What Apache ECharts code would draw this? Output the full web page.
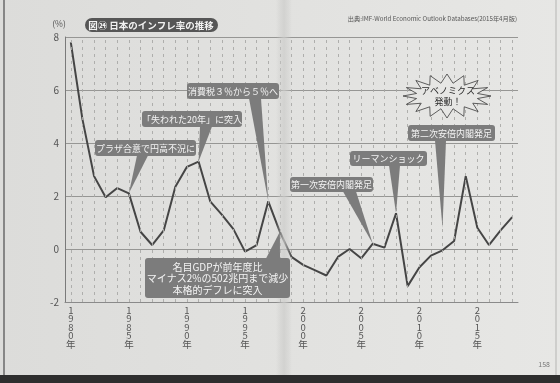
<!DOCTYPE html>
<html><head><meta charset="utf-8">
<script src="https://cdn.jsdelivr.net/npm/echarts@6/dist/echarts.min.js"></script>
<style>html,body{margin:0;padding:0;background:#e2e2e0}#c{width:560px;height:383px}</style>
</head><body><div id="c"></div><script>
// ---- data ----
const years = [1980,1981,1982,1983,1984,1985,1986,1987,1988,1989,
               1990,1991,1992,1993,1994,1995,1996,1997,1998,1999,
               2000,2001,2002,2003,2004,2005,2006,2007,2008,2009,
               2010,2011,2012,2013,2014,2015,2016,2017,2018];
const inflation = [7.8,4.9,2.75,1.95,2.3,2.1,0.65,0.15,0.7,2.35,
                   3.1,3.3,1.8,1.3,0.75,-0.1,0.15,1.8,0.65,-0.3,
                   -0.6,-0.8,-1.0,-0.3,0.0,-0.35,0.2,0.05,1.35,-1.4,
                   -0.7,-0.25,-0.05,0.3,2.75,0.8,0.15,0.7,1.2];
const labelYears = [1980,1985,1990,1995,2000,2005,2010,2015];
const yMin = -2, yMax = 8, yStep = 2;
const titleText = '図㉔ 日本のインフレ率の推移';
const sourceText = '出典:IMF-World Economic Outlook Databases(2015年4月版)';
const unitText = '(%)';
const noteTexts = ['プラザ合意で円高不況に','「失われた20年」に突入','消費税３％から５％へ',
                   '名目GDPが前年度比\nマイナス2%の502兆円まで減少\n本格的デフレに突入',
                   '第一次安倍内閣発足','リーマンショック','第二次安倍内閣発足'];
const noteYears = [1985,1991,1997,1998,2006,2008,2012];
const noteTipValues = [2.1,3.3,1.8,0.65,0.2,1.35,0.8];
const burstText = 'アベノミクス\n発動！';
const pageNumber = '158';

// ---- layout (pixels) ----
const noteBoxes = [
  {x:95,y:140,w:101,h:16,b1:137,b2:148,edge:'bottom',fs:9},
  {x:142,y:111,w:100,h:16,b1:200,b2:212,edge:'bottom',fs:9},
  {x:187,y:83,w:92,h:16,b1:249,b2:261,edge:'bottom',fs:9},
  {x:145,y:258,w:145,h:40,b1:266,b2:280,edge:'top',fs:10},
  {x:290,y:177,w:83,h:15,b1:343,b2:356,edge:'bottom',fs:9},
  {x:350,y:151,w:77,h:15,b1:389,b2:400,edge:'bottom',fs:9},
  {x:408,y:125,w:87,h:16,b1:435,b2:446,edge:'bottom',fs:9}
];
const FONT = '"Noto Sans CJK JP","Noto Sans",sans-serif';

const chart = echarts.init(document.getElementById('c'), null, {renderer:'canvas'});
chart.setOption({
  animation:false,
  backgroundColor:'#e2e2e0',
  textStyle:{fontFamily:FONT},
  grid:{left:65,right:42,top:37,bottom:81},
  xAxis:{type:'category',data:years.map(String),boundaryGap:true,
    axisLine:{onZero:false,lineStyle:{color:'#8a8a8a',width:1}},
    axisTick:{show:false},
    axisLabel:{interval:(i,v)=>labelYears.includes(+v),
      formatter:v=>v.split('').join('\n')+'\n年',
      fontSize:9.5,lineHeight:8.5,color:'#555',margin:4,fontFamily:FONT},
    splitLine:{show:false}},
  yAxis:{type:'value',min:yMin,max:yMax,interval:yStep,
    axisLine:{show:true,lineStyle:{color:'#7a7a7a'}},
    axisTick:{show:false},
    axisLabel:{fontSize:10,color:'#555',margin:6},
    splitLine:{lineStyle:{color:'#969694',width:1}}},
  series:[{type:'line',data:inflation,symbol:'none',z:3,
    lineStyle:{color:'#454545',width:2},itemStyle:{color:'#454545'},
    markLine:{silent:true,symbol:['none','none'],label:{show:false},
      lineStyle:{type:[3,4],color:'#a8a8a6',width:0.9},
      emphasis:{disabled:true},
      data:years.map(y=>({xAxis:String(y)}))}}]
});

const g = [];
// page decoration
g.push({type:'rect',silent:true,z:-1,shape:{x:0,y:0,width:560,height:383},
  style:{fill:new echarts.graphic.LinearGradient(0,0,1,0,[{offset:0,color:'#dcdcda'},{offset:1,color:'#e7e7e5'}])}});
g.push({type:'rect',silent:true,z:20,shape:{x:276,y:0,width:16,height:375},
  style:{fill:new echarts.graphic.LinearGradient(0,0,1,0,[{offset:0,color:'rgba(200,200,198,0)'},{offset:0.5,color:'rgba(205,205,203,0.75)'},{offset:1,color:'rgba(200,200,198,0)'}])}});
g.push({type:'rect',silent:true,z:21,shape:{x:0,y:375,width:560,height:8},style:{fill:'#2e2e2e'}});
g.push({type:'line',silent:true,z:21,shape:{x1:4,y1:0,x2:4,y2:375},style:{stroke:'#6a6a6a',lineWidth:1.5}});
g.push({type:'line',silent:true,z:21,shape:{x1:556,y1:0,x2:556,y2:375},style:{stroke:'#b5b5b3',lineWidth:1}});
g.push({type:'text',silent:true,z:21,style:{x:550,y:364,text:pageNumber,fontSize:7,fill:'#777',align:'right',verticalAlign:'middle',fontFamily:FONT}});

// title pill
g.push({type:'rect',z:30,shape:{x:85,y:18,width:133,height:14,r:7},style:{fill:'#565656'}});
g.push({type:'text',z:31,style:{x:151,y:25.5,text:titleText,fontSize:9.5,fontWeight:'bold',fill:'#f2f2f2',align:'center',verticalAlign:'middle',fontFamily:FONT}});
g.push({type:'text',z:31,style:{x:59,y:24,text:unitText,fontSize:8.5,fill:'#555',align:'center',verticalAlign:'middle',fontFamily:FONT}});
g.push({type:'text',z:31,style:{x:517,y:19,text:sourceText,fontSize:6.2,fill:'#555',align:'right',verticalAlign:'middle',fontFamily:FONT}});

// annotation boxes with pointers
noteTexts.forEach((t,i)=>{
  const b = noteBoxes[i];
  const tip = chart.convertToPixel({gridIndex:0},[years.indexOf(noteYears[i]),noteTipValues[i]]);
  const by = b.edge==='bottom' ? b.y+b.h-0.5 : b.y+0.5;
  g.push({type:'polygon',z:30,shape:{points:[[b.b1,by],[b.b2,by],tip]},style:{fill:'#7c7c7c'}});
  g.push({type:'rect',z:30,shape:{x:b.x,y:b.y,width:b.w,height:b.h,r:3},style:{fill:'#7c7c7c'}});
  g.push({type:'text',z:31,style:{x:b.x+b.w/2,y:b.y+b.h/2+0.5,text:t,fontSize:b.fs,lineHeight:b.fs+1.5,fill:'#f4f4f4',align:'center',verticalAlign:'middle',fontFamily:FONT}});
});

// starburst
(function(){
  const cx=447, cy=96, n=16, pts=[];
  for(let k=0;k<n*2;k++){
    const a = Math.PI*k/n - Math.PI/2;
    const outer = k%2===0;
    const rx = outer?44:31, ry = outer?22:13;
    pts.push([cx+rx*Math.cos(a), cy+ry*Math.sin(a)]);
  }
  g.push({type:'polygon',z:30,shape:{points:pts},style:{fill:'#e6e6e4',stroke:'#3a3a3a',lineWidth:0.8}});
  g.push({type:'text',z:31,style:{x:cx+1,y:cy,text:burstText,fontSize:9,lineHeight:11,fill:'#2a2a2a',align:'center',verticalAlign:'middle',fontFamily:FONT}});
})();

chart.setOption({graphic:g});
</script></body></html>
